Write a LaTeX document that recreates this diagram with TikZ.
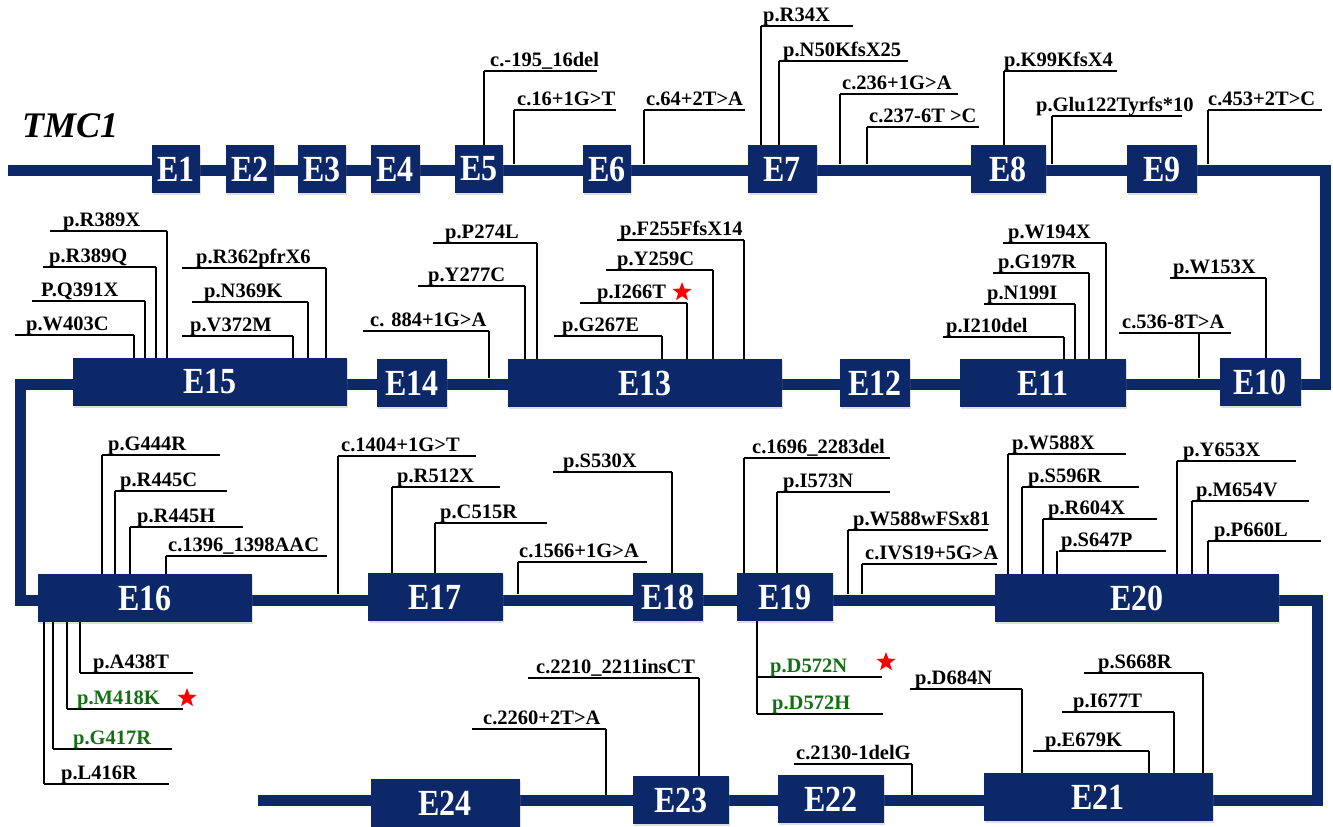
\documentclass[tikz,border=0pt]{standalone}
\usepackage{fontspec}
\setmainfont{Liberation Serif}
\usepackage{graphicx}
\usetikzlibrary{backgrounds,shadows,shapes.geometric}
\definecolor{exonblue}{RGB}{12,40,105}
\definecolor{mutgreen}{RGB}{20,110,20}

\begin{document}
\begin{tikzpicture}[x=1pt,y=-1pt,
  exon/.style={fill=exonblue,text=white,inner sep=0pt,minimum height=48pt,
    font=\fontsize{32}{32}\selectfont\bfseries,
    drop shadow={shadow xshift=1pt,shadow yshift=-2pt,opacity=0.25}},
  backbone/.style={exonblue,line width=11pt,line join=miter},
  lead/.style={line width=1.3pt},
  mut/.style={anchor=base west,inner sep=0pt,font=\fontsize{20.5}{24}\selectfont\bfseries},
  hit/.style={star,star points=5,star point ratio=2.4,fill=red,inner sep=0pt,minimum size=20pt}]
  \useasboundingbox (0,0) rectangle (1333,827);
  \node[anchor=base west,inner sep=0pt,font=\fontsize{36}{36}\selectfont\bfseries\itshape] (gene) at (22,137) {TMC1};
  % exons, four rows
  \foreach \n/\cx/\cy/\w in {E1/176/169/48,E2/250/169/48,E3/322/169/48,E4/395/169/49,
      E5/479/169/48,E6/607/169/48,E7/782/169/69,E8/1008/169/75,E9/1162/169/70,
      E15/210/382/274,E14/412/383/70,E13/645/383/274,E12/875/383/70,E11/1043/383/166,E10/1260/382/81,
      E16/145/598/214,E17/435/597/135,E18/668/597/70,E19/785/597/96,E20/1137/598/284,
      E24/445/803/149,E23/681/800/96,E22/831/799/106,E21/1098/797/229}
    \node[exon,minimum width=\w pt] (\n) at (\cx,\cy) {\scalebox{1}[1.15]{\n}};
  % top of the line in each row
  \coordinate (r1) at (0,164);
  \coordinate (r2) at (0,378);
  \coordinate (r3) at (0,594);
  \coordinate (r4) at (0,795);
  \begin{scope}[on background layer]
    \draw[backbone] (8,170) -- (1325,170) -- (1325,384) -- (20,384) -- (20,600)
      -- (1317,600) -- (1317,800) -- (258,800);
  \end{scope}
  % mutations: underline from xl to xr, drop at xv
  \foreach \xl/\xr/\yu/\xv/\tx/\tg/\col/\lab [count=\i] in {
      484/597/71/484/490/E5.north/black/c.-195\_16del,
      514/616/110/514/517/r1/black/c.16+1G>T,
      644/745/110/644/646/r1/black/c.64+2T>A,
      761/853/26/761/763/E7.north/black/p.R34X,
      779/908/61/779/783/E7.north/black/p.N50KfsX25,
      840/958/94/840/842/r1/black/c.236+1G>A,
      867/979/127/867/869/r1/black/c.237-6T >C,
      1004/1117/71/1004/1004/E8.north/black/p.K99KfsX4,
      1052/1182/116/1052/1036/r1/black/p.Glu122Tyrfs*10,
      1208/1322/110/1208/1208/r1/black/c.453+2T>C,
      % row 2
      50/167/231/167/63/E15.north/black/p.R389X,
      43/156/267/156/49/E15.north/black/p.R389Q,
      32/145/301/145/41/E15.north/black/P.Q391X,
      15/134/335/134/26/E15.north/black/p.W403C,
      182/326/268/326/196/E15.north/black/p.R362pfrX6,
      192/308/302/308/204/E15.north/black/p.N369K,
      182/293/336/293/190/E15.north/black/p.V372M,
      363/489/331/489/370/r2/black/c. 884+1G>A,
      433/537/243/537/445/E13.north/black/p.P274L,
      418/525/286/525/428/E13.north/black/p.Y277C,
      580/687/303/687/597/E13.north/black/p.I266T,
      554/662/336/662/562/E13.north/black/p.G267E,
      606/713/270/713/617/E13.north/black/p.Y259C,
      617/744/240/744/620/E13.north/black/p.F255FfsX14,
      1003/1106/243/1106/1008/E11.north/black/p.W194X,
      993/1089/273/1089/998/E11.north/black/p.G197R,
      984/1075/304/1075/987/E11.north/black/p.N199I,
      943/1064/337/1064/946/E11.north/black/p.I210del,
      1119/1231/333/1199/1122/r2/black/c.536-8T>A,
      1170/1266/278/1266/1173/E10.north/black/p.W153X,
      % row 3
      102/220/455/102/108/E16.north/black/p.G444R,
      115/227/491/115/120/E16.north/black/p.R445C,
      130/243/527/130/137/E16.north/black/p.R445H,
      166/327/556/166/168/E16.north/black/c.1396\_1398AAC,
      338/476/456/338/341/r3/black/c.1404+1G>T,
      392/500/487/392/397/E17.north/black/p.R512X,
      435/547/523/435/440/E17.north/black/p.C515R,
      518/647/562/518/519/r3/black/c.1566+1G>A,
      553/672/472/672/563/E18.north/black/p.S530X,
      744/890/458/744/752/E19.north/black/c.1696\_2283del,
      777/890/492/777/783/E19.north/black/p.I573N,
      848/988/530/848/853/r3/black/p.W588wFSx81,
      862/997/564/862/865/r3/black/c.IVS19+5G>A,
      1008/1126/454/1008/1012/E20.north/black/p.W588X,
      1022/1139/487/1022/1028/E20.north/black/p.S596R,
      1043/1157/519/1043/1048/E20.north/black/p.R604X,
      1059/1166/551/1057/1061/E20.north/black/p.S647P,
      1177/1296/461/1177/1183/E20.north/black/p.Y653X,
      1192/1309/501/1192/1196/E20.north/black/p.M654V,
      1208/1321/541/1208/1214/E20.north/black/p.P660L,
      % below E16 and E19
      80/193/673/80/93/E16.south/black/p.A438T,
      67/183/709/67/77/E16.south/mutgreen/p.M418K,
      53/172/749/53/73/E16.south/mutgreen/p.G417R,
      44/169/784/44/61/E16.south/black/p.L416R,
      757/882/677/757/770/E19.south/mutgreen/p.D572N,
      757/883/714/757/772/E19.south/mutgreen/p.D572H,
      % row 4
      528/699/678/699/536/E23.north/black/c.2210\_2211insCT,
      472/606/729/606/483/r4/black/c.2260+2T>A,
      794/912/764/912/796/r4/black/c.2130-1delG,
      910/1022/689/1022/915/E21.north/black/p.D684N,
      1084/1203/673/1203/1098/E21.north/black/p.S668R,
      1062/1174/712/1174/1073/E21.north/black/p.I677T,
      1033/1149/751/1149/1045/E21.north/black/p.E679K}{
    \draw[lead] (\xl,\yu) -- (\xr,\yu) (\xv,\yu) -- (\xv,0 |- \tg);
    \node[mut,text=\col] (m\i) at (\tx,\yu-5) {\lab};
  }
  % red stars
  \node[hit] (s1) at (682,292) {};
  \node[hit] (s2) at (187,698) {};
  \node[hit] (s3) at (886,662) {};
\end{tikzpicture}
\end{document}
